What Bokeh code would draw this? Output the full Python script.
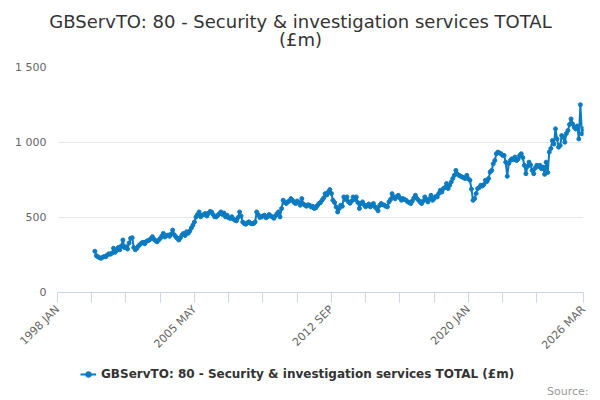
import math
from bokeh.plotting import figure
from bokeh.layouts import column
from bokeh.models import FixedTicker, Label, Legend, LegendItem, Range1d
from bokeh.embed import file_html
from bokeh.resources import INLINE

title_line1 = "GBServTO: 80 - Security & investigation services TOTAL"
title_line2 = "(£m)"
series_name = "GBServTO: 80 - Security & investigation services TOTAL (£m)"
source_text = "Source:"

month_names = ["JAN", "FEB", "MAR", "APR", "MAY", "JUN",
               "JUL", "AUG", "SEP", "OCT", "NOV", "DEC"]
axis_start = "1998 JAN"
axis_end = "2026 MAR"
data_start = "2000 JAN"
tick_labels = ["1998 JAN", "2005 MAY", "2012 SEP", "2020 JAN", "2026 MAR"]
y_ticks = [0, 500, 1000, 1500]
y_tick_labels = ["0", "500", "1 000", "1 500"]

v2000 = [275, 245, 238, 232, 228, 235, 240, 238, 250, 258, 255, 262]
v2001 = [295, 268, 280, 300, 285, 310, 350, 300, 305, 290, 330, 361]
v2002 = [365, 300, 285, 295, 310, 320, 330, 335, 325, 340, 345, 350]
v2003 = [360, 372, 355, 345, 338, 350, 360, 375, 394, 370, 380, 383]
v2004 = [375, 390, 416, 385, 372, 360, 350, 365, 383, 394, 380, 405]
v2005 = [395, 410, 430, 449, 470, 504, 520, 537, 505, 515, 520, 527]
v2006 = [510, 527, 540, 537, 520, 505, 504, 515, 525, 537, 520, 530]
v2007 = [504, 515, 498, 494, 505, 490, 482, 478, 500, 537, 510, 470]
v2008 = [460, 455, 465, 471, 462, 458, 460, 470, 537, 520, 500, 504]
v2009 = [510, 515, 498, 505, 520, 510, 504, 495, 510, 525, 537, 504]
v2010 = [560, 615, 600, 593, 605, 610, 626, 615, 600, 593, 610, 600]
v2011 = [582, 626, 590, 582, 575, 585, 582, 570, 575, 560, 565, 580]
v2012 = [593, 600, 615, 630, 659, 650, 670, 686, 660, 615, 600, 571]
v2013 = [537, 560, 582, 575, 637, 620, 637, 604, 595, 610, 637, 620]
v2014 = [637, 600, 560, 593, 604, 585, 571, 580, 590, 571, 582, 593]
v2015 = [571, 560, 545, 580, 593, 585, 582, 575, 571, 604, 620, 659]
v2016 = [637, 625, 640, 648, 630, 615, 626, 620, 615, 605, 600, 593]
v2017 = [610, 630, 648, 626, 615, 604, 593, 610, 637, 620, 604, 625]
v2018 = [648, 615, 626, 640, 637, 660, 681, 670, 693, 700, 726, 693]
v2019 = [715, 737, 760, 781, 814, 790, 781, 775, 770, 765, 760, 781]
v2020 = [759, 748, 690, 615, 626, 660, 693, 700, 715, 710, 720, 748]
v2021 = [740, 760, 803, 814, 858, 880, 925, 936, 930, 925, 914, 914]
v2022 = [869, 775, 860, 880, 892, 885, 903, 880, 890, 914, 925, 900]
v2023 = [848, 792, 840, 869, 850, 814, 792, 830, 848, 840, 848, 825]
v2024 = [836, 788, 869, 800, 936, 960, 1013, 990, 1091, 1024, 969, 980]
v2025 = [1046, 1035, 1002, 1060, 1080, 1120, 1157, 1124, 1102, 1090, 1110, 1024]
v2026 = [1252, 1058, 1091]

values = (v2000 + v2001 + v2002 + v2003 + v2004 + v2005 + v2006 + v2007 +
          v2008 + v2009 + v2010 + v2011 + v2012 + v2013 + v2014 + v2015 +
          v2016 + v2017 + v2018 + v2019 + v2020 + v2021 + v2022 + v2023 +
          v2024 + v2025 + v2026)

base_year = int(axis_start.split()[0])


def month_index(label):
    y, m = label.split()
    return (int(y) - base_year) * 12 + month_names.index(m)


x0 = month_index(data_start)
xs = [x0 + i for i in range(len(values))]
x_end = month_index(axis_end)

FONT = "DejaVu Sans"
BLUE = "#0b7bc1"
W = 600


def strip(height):
    f = figure(width=W, height=height, output_backend="svg",
               toolbar_location=None, x_axis_type=None, y_axis_type=None,
               min_border=0, x_range=Range1d(0, 1), y_range=Range1d(0, 1))
    f.outline_line_color = None
    f.grid.grid_line_color = None
    f.background_fill_color = "white"
    f.border_fill_color = "white"
    f.frame_align = False
    return f


# ---- title strip
p0 = strip(59)
for txt, yy in ((title_line1, 38), (title_line2, 20)):
    p0.add_layout(Label(x=W / 2, y=yy, x_units="screen", y_units="screen",
                        text=txt, text_align="center", text_baseline="middle",
                        text_font=FONT, text_font_size="18px",
                        text_color="#333333"))

# ---- main chart
p = figure(width=W, height=300, output_backend="svg",
           toolbar_location=None,
           x_range=Range1d(0, x_end), y_range=Range1d(0, 1500),
           min_border_left=57, min_border_right=17, min_border_top=8,
           min_border_bottom=66, title=None)
p.outline_line_color = None
p.background_fill_color = "white"
p.border_fill_color = "white"

p.line(xs, values, line_color=BLUE, line_width=2)
p.scatter(xs, values, size=4, fill_color=BLUE, line_color=BLUE)

minor = list(range(0, x_end - 29, 22))
tick_pos = sorted(set(minor + [month_index(t) for t in tick_labels]))
overrides = {t: "" for t in tick_pos}
for t in tick_labels:
    overrides[month_index(t)] = t
xa = p.xaxis[0]
xa.ticker = FixedTicker(ticks=tick_pos)
xa.major_label_overrides = overrides
xa.major_label_orientation = math.pi / 4
xa.major_label_text_font = FONT
xa.major_label_text_font_size = "11px"
xa.major_label_text_color = "#666666"
xa.axis_line_color = "#ccd6eb"
xa.major_tick_line_color = "#ccd6eb"
xa.major_tick_out = 10
xa.major_tick_in = 0
xa.minor_tick_line_color = None
p.xgrid.grid_line_color = None

ya = p.yaxis[0]
ya.ticker = FixedTicker(ticks=y_ticks)
ya.major_label_overrides = {t: l for t, l in zip(y_ticks, y_tick_labels)}
ya.major_label_text_font = FONT
ya.major_label_text_font_size = "11px"
ya.major_label_text_color = "#666666"
ya.axis_line_color = None
ya.major_tick_line_color = None
ya.minor_tick_line_color = None
p.ygrid.ticker = FixedTicker(ticks=y_ticks)
p.ygrid.grid_line_color = "#e6e6e6"

# ---- legend / source strip (its glyphs sit outside its visible range)
p2 = strip(41)
p2.y_range = Range1d(10000, 10001)
l2 = p2.line(xs, values, line_color=BLUE, line_width=2)
s2 = p2.scatter(xs, values, size=4, fill_color=BLUE, line_color=BLUE)
legend = Legend(items=[LegendItem(label=series_name, renderers=[l2, s2])],
                location=(80, 19), orientation="horizontal",
                label_text_font=FONT, label_text_font_size="12px",
                label_text_font_style="bold", label_text_color="#333333",
                border_line_color=None, background_fill_alpha=0,
                glyph_width=16, glyph_height=14, padding=0, margin=0,
                label_standoff=5, label_height=14)
p2.add_layout(legend)
p2.add_layout(Label(x=588, y=9, x_units="screen", y_units="screen",
                    text=source_text, text_align="right",
                    text_baseline="middle", text_font=FONT,
                    text_font_size="11px", text_color="#999999"))

open("out.html", "w").write(file_html(column(p0, p, p2, spacing=0), INLINE))
